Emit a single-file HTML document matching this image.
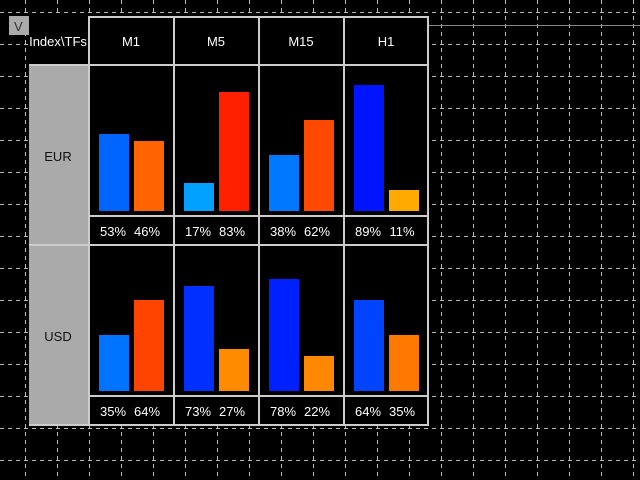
<!DOCTYPE html>
<html><head><style>
body{margin:0;background:#000;width:640px;height:480px;overflow:hidden}
svg{display:block}
text{font-family:"Liberation Sans",Arial,sans-serif;font-size:13px;fill:#fff}
</style></head><body>
<svg width="640" height="480" xmlns="http://www.w3.org/2000/svg">
<rect width="640" height="480" fill="#000"/>
<g stroke="#bbb" stroke-width="1" stroke-dasharray="4,4">
<line x1="25.5" y1="0" x2="25.5" y2="480"/><line x1="57.5" y1="0" x2="57.5" y2="480"/><line x1="89.5" y1="0" x2="89.5" y2="480"/><line x1="121.5" y1="0" x2="121.5" y2="480"/><line x1="153.5" y1="0" x2="153.5" y2="480"/><line x1="185.5" y1="0" x2="185.5" y2="480"/><line x1="217.5" y1="0" x2="217.5" y2="480"/><line x1="249.5" y1="0" x2="249.5" y2="480"/><line x1="281.5" y1="0" x2="281.5" y2="480"/><line x1="313.5" y1="0" x2="313.5" y2="480"/><line x1="345.5" y1="0" x2="345.5" y2="480"/><line x1="377.5" y1="0" x2="377.5" y2="480"/><line x1="409.5" y1="0" x2="409.5" y2="480"/><line x1="441.5" y1="0" x2="441.5" y2="480"/><line x1="473.5" y1="0" x2="473.5" y2="480"/><line x1="505.5" y1="0" x2="505.5" y2="480"/><line x1="537.5" y1="0" x2="537.5" y2="480"/><line x1="569.5" y1="0" x2="569.5" y2="480"/><line x1="601.5" y1="0" x2="601.5" y2="480"/><line x1="633.5" y1="0" x2="633.5" y2="480"/>
<line x1="0" y1="12.5" x2="640" y2="12.5"/><line x1="0" y1="44.5" x2="640" y2="44.5"/><line x1="0" y1="76.5" x2="640" y2="76.5"/><line x1="0" y1="108.5" x2="640" y2="108.5"/><line x1="0" y1="140.5" x2="640" y2="140.5"/><line x1="0" y1="172.5" x2="640" y2="172.5"/><line x1="0" y1="204.5" x2="640" y2="204.5"/><line x1="0" y1="236.5" x2="640" y2="236.5"/><line x1="0" y1="268.5" x2="640" y2="268.5"/><line x1="0" y1="300.5" x2="640" y2="300.5"/><line x1="0" y1="332.5" x2="640" y2="332.5"/><line x1="0" y1="364.5" x2="640" y2="364.5"/><line x1="0" y1="396.5" x2="640" y2="396.5"/><line x1="0" y1="428.5" x2="640" y2="428.5"/><line x1="0" y1="460.5" x2="640" y2="460.5"/>
</g>
<line x1="428" y1="25.5" x2="640" y2="25.5" stroke="#888"/>
<!-- table background -->
<rect x="29" y="16" width="400" height="410" fill="#000"/>
<rect x="29" y="65" width="60" height="361" fill="#aaa"/>
<rect x="9" y="16" width="20" height="19" fill="#aaa"/>
<text x="14" y="31" style="fill:#333">V</text>
<g stroke="#ccc" stroke-width="2" fill="none">
<rect x="89" y="17" width="339" height="408"/>
<line x1="29" y1="65" x2="428" y2="65"/><line x1="29" y1="245" x2="428" y2="245"/><line x1="29" y1="425" x2="428" y2="425"/>
<line x1="174" y1="17" x2="174" y2="425"/><line x1="259" y1="17" x2="259" y2="425"/><line x1="344" y1="17" x2="344" y2="425"/>
<line x1="89" y1="216" x2="428" y2="216"/><line x1="89" y1="396" x2="428" y2="396"/>
</g>
<text x="58" y="46" text-anchor="middle">Index\TFs</text>
<text x="131" y="46" text-anchor="middle">M1</text>
<text x="216" y="46" text-anchor="middle">M5</text>
<text x="301" y="46" text-anchor="middle">M15</text>
<text x="386" y="46" text-anchor="middle">H1</text>
<text x="58" y="161" text-anchor="middle" style="fill:#111">EUR</text>
<text x="58" y="341" text-anchor="middle" style="fill:#111">USD</text>
<!-- EUR bars -->
<rect x="99" y="134" width="30" height="77" fill="#0064ff"/><rect x="134" y="141" width="30" height="70" fill="#ff6400"/>
<rect x="184" y="183" width="30" height="28" fill="#00a0ff"/><rect x="219" y="92" width="30" height="119" fill="#ff2000"/>
<rect x="269" y="155" width="30" height="56" fill="#0078ff"/><rect x="304" y="120" width="30" height="91" fill="#ff4800"/>
<rect x="354" y="85" width="30" height="126" fill="#0014ff"/><rect x="389" y="190" width="30" height="21" fill="#ffaa00"/>
<!-- USD bars -->
<rect x="99" y="335" width="30" height="56" fill="#0074ff"/><rect x="134" y="300" width="30" height="91" fill="#ff4400"/>
<rect x="184" y="286" width="30" height="105" fill="#0030ff"/><rect x="219" y="349" width="30" height="42" fill="#ff8c00"/>
<rect x="269" y="279" width="30" height="112" fill="#0020ff"/><rect x="304" y="356" width="30" height="35" fill="#ff8800"/>
<rect x="354" y="300" width="30" height="91" fill="#0044ff"/><rect x="389" y="335" width="30" height="56" fill="#ff7800"/>
<!-- labels -->
<text x="113" y="236" text-anchor="middle">53%</text><text x="147" y="236" text-anchor="middle">46%</text>
<text x="198" y="236" text-anchor="middle">17%</text><text x="232" y="236" text-anchor="middle">83%</text>
<text x="283" y="236" text-anchor="middle">38%</text><text x="317" y="236" text-anchor="middle">62%</text>
<text x="368" y="236" text-anchor="middle">89%</text><text x="402" y="236" text-anchor="middle">11%</text>
<text x="113" y="416" text-anchor="middle">35%</text><text x="147" y="416" text-anchor="middle">64%</text>
<text x="198" y="416" text-anchor="middle">73%</text><text x="232" y="416" text-anchor="middle">27%</text>
<text x="283" y="416" text-anchor="middle">78%</text><text x="317" y="416" text-anchor="middle">22%</text>
<text x="368" y="416" text-anchor="middle">64%</text><text x="402" y="416" text-anchor="middle">35%</text>
</svg>
</body></html>
